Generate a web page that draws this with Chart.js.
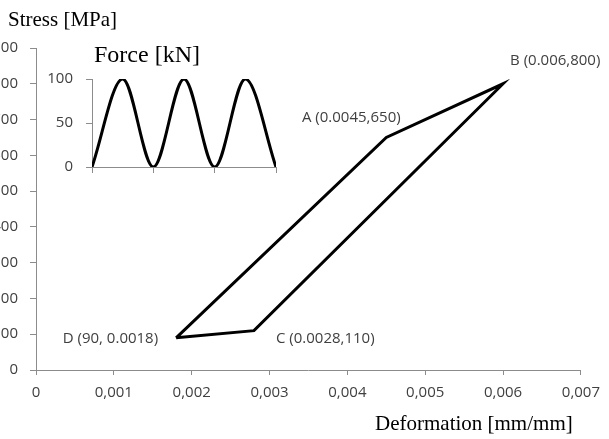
<!DOCTYPE html>
<html>
<head>
<meta charset="utf-8">
<script src="https://cdn.jsdelivr.net/npm/chart.js@4.4.1/dist/chart.umd.min.js"></script>
<style>
html, body { margin: 0; padding: 0; background: #ffffff; }
#wrap { position: relative; width: 609px; height: 439px; overflow: hidden; background: #ffffff; }
#main { position: absolute; left: 0; top: 0; }
#inset { position: absolute; left: 0; top: 0; }
.ttl { position: absolute; font-family: "Liberation Serif", "Times New Roman", serif; color: #000; white-space: nowrap; line-height: 1; transform-origin: 0 0; }
</style>
</head>
<body>
<div id="wrap">
  <canvas id="main" width="609" height="439"></canvas>
  <canvas id="inset" width="300" height="190"></canvas>
  <div class="ttl" style="left:8px; top:9px; font-size:21px;">Stress [MPa]</div>
  <div class="ttl" style="left:94px; top:42px; font-size:24px;">Force [kN]</div>
  <div class="ttl" style="left:375px; top:413px; font-size:21px;">Deformation [mm/mm]</div>
</div>
<script>
// ---- main chart data ----
const strainValues = [0.0018, 0.0028, 0.006, 0.0045, 0.0018];
const stressValues = [90, 110, 800, 650, 90];
const pointLabels = ['D (90, 0.0018)', 'C (0.0028,110)', 'B (0.006,800)', 'A (0.0045,650)'];
const strainTicks = [0, 0.001, 0.002, 0.003, 0.004, 0.005, 0.006, 0.007];
const strainTickLabels = ['0', '0,001', '0,002', '0,003', '0,004', '0,005', '0,006', '0,007'];
const stressTicks = [0, 100, 200, 300, 400, 500, 600, 700, 800, 900];

// ---- inset data ----
const cycleSteps = [0, 1, 2, 3, 4, 5, 6];
const forceValues = [0, 100, 0, 100, 0, 100, 0];
const cycleTicks = [0, 2, 4, 6];
const forceTicks = [0, 50, 100];

const AXIS = '#8c8c8c';
const TXT = '#404040';
const tickFont = { family: '"Open Sans", "Noto Sans", sans-serif', size: 15 };

// label placement styles (offsets from the point, px)
const labelPlacement = [
  { dx: -18, dy: 1, align: 'right' },
  { dx: 22, dy: 8, align: 'left' },
  { dx: 7, dy: -23, align: 'left' },
  { dx: -35, dy: -20, align: 'center' }
];

const pointLabelPlugin = {
  id: 'pointLabelPlugin',
  afterDatasetsDraw(chart) {
    const meta = chart.getDatasetMeta(0);
    const ctx = chart.ctx;
    ctx.save();
    ctx.font = tickFont.size + 'px ' + tickFont.family;
    ctx.fillStyle = TXT;
    ctx.textBaseline = 'middle';
    pointLabels.forEach((txt, i) => {
      const el = meta.data[i];
      const p = labelPlacement[i];
      ctx.textAlign = p.align;
      ctx.fillText(txt, el.x + p.dx, el.y + p.dy);
    });
    ctx.restore();
  }
};

new Chart(document.getElementById('main'), {
  type: 'scatter',
  data: {
    datasets: [{
      data: strainValues.map((x, i) => ({ x: x, y: stressValues[i] })),
      showLine: true,
      borderColor: '#000000',
      borderWidth: 3,
      pointRadius: 0,
      tension: 0,
      fill: false,
      borderJoinStyle: 'miter'
    }]
  },
  options: {
    responsive: false,
    animation: false,
    devicePixelRatio: 1,
    layout: { padding: { top: 48, right: 26, left: 0, bottom: 0 } },
    plugins: { legend: { display: false }, tooltip: { enabled: false } },
    scales: {
      x: {
        type: 'linear', min: 0, max: 0.007,
        afterBuildTicks: (s) => { s.ticks = strainTicks.map(v => ({ value: v })); },
        afterFit: (s) => { s.height = 69; },
        ticks: {
          autoSkip: false, maxRotation: 0, padding: 9,
          color: TXT, font: tickFont,
          callback: (v) => strainTickLabels[strainTicks.indexOf(v)] ?? ''
        },
        grid: { drawOnChartArea: false, drawTicks: true, tickLength: 5, color: AXIS, lineWidth: 1 },
        border: { display: true, color: AXIS, width: 1 }
      },
      y: {
        type: 'linear', min: 0, max: 900,
        afterBuildTicks: (s) => { s.ticks = stressTicks.map(v => ({ value: v })); },
        afterFit: (s) => { s.width = 36; },
        ticks: { autoSkip: false, padding: 12, color: TXT, font: tickFont },
        grid: { drawOnChartArea: false, drawTicks: true, tickLength: 6, color: AXIS, lineWidth: 1 },
        border: { display: true, color: AXIS, width: 1 }
      }
    }
  },
  plugins: [pointLabelPlugin]
});

new Chart(document.getElementById('inset'), {
  type: 'line',
  data: {
    datasets: [{
      data: cycleSteps.map((x, i) => ({ x: x, y: forceValues[i] })),
      borderColor: '#000000',
      borderWidth: 3,
      pointRadius: 0,
      cubicInterpolationMode: 'monotone',
      fill: false
    }]
  },
  options: {
    responsive: false,
    animation: false,
    devicePixelRatio: 1,
    layout: { padding: { top: 79, right: 24, left: 0, bottom: 13 } },
    plugins: { legend: { display: false }, tooltip: { enabled: false } },
    scales: {
      x: {
        type: 'linear', min: 0, max: 6,
        afterBuildTicks: (s) => { s.ticks = cycleTicks.map(v => ({ value: v })); },
        afterFit: (s) => { s.height = 10; },
        ticks: { display: true, callback: () => '', font: tickFont },
        grid: { drawOnChartArea: false, drawTicks: true, tickLength: 6, color: AXIS },
        border: { display: true, color: AXIS }
      },
      y: {
        type: 'linear', min: 0, max: 100,
        afterBuildTicks: (s) => { s.ticks = forceTicks.map(v => ({ value: v })); },
        afterFit: (s) => { s.width = 92; },
        ticks: { autoSkip: false, padding: 13, color: TXT, font: tickFont },
        grid: { drawOnChartArea: false, drawTicks: true, tickLength: 6, color: AXIS },
        border: { display: true, color: AXIS }
      }
    }
  }
});
</script>
</body>
</html>
